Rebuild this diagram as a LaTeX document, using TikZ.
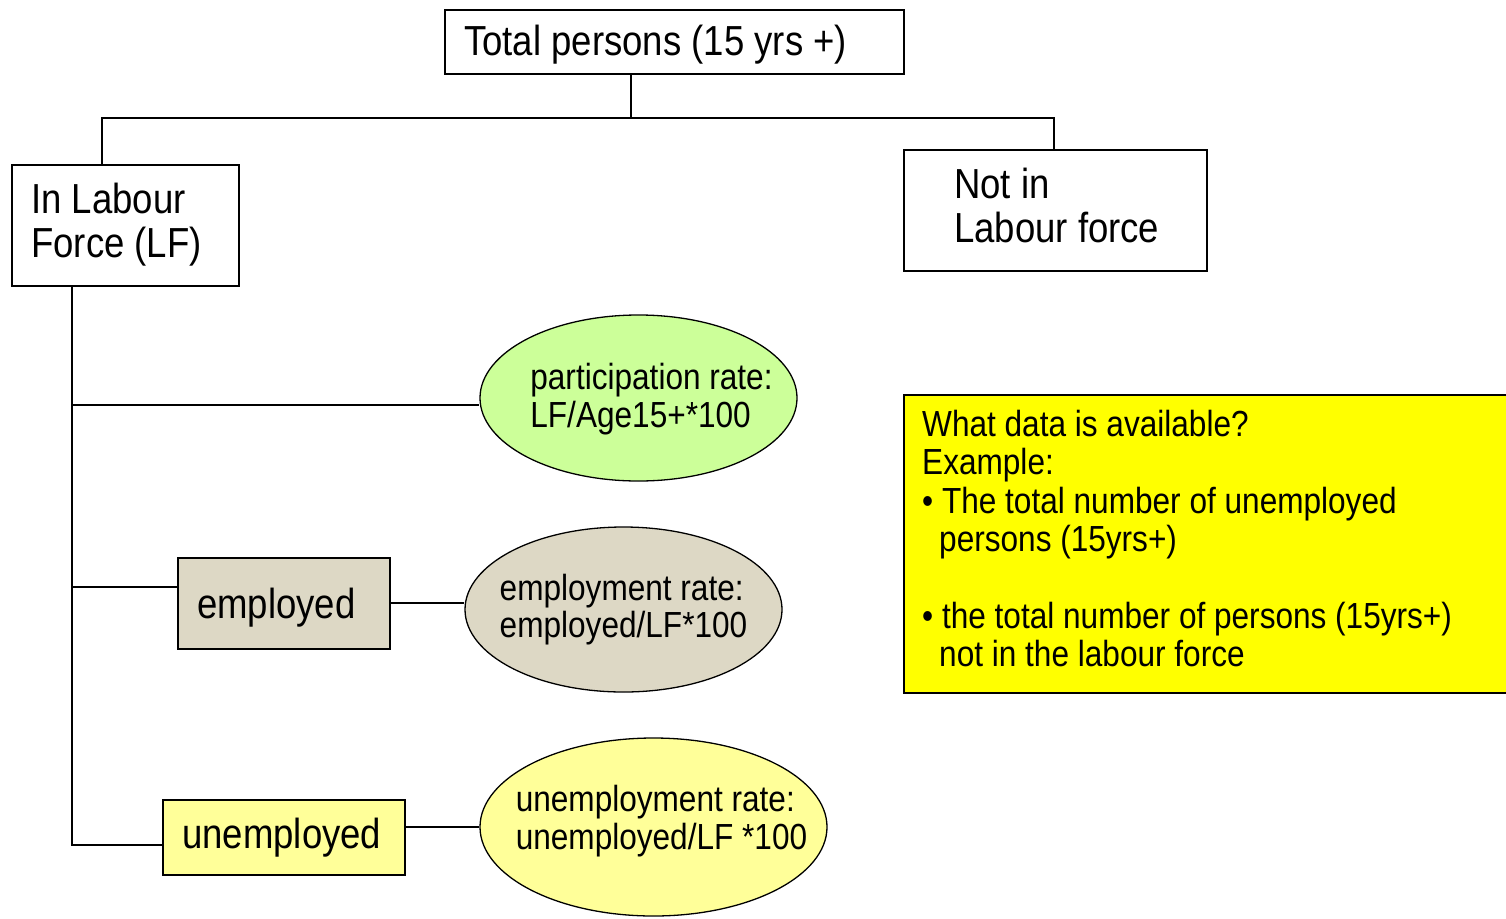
\documentclass[tikz,border=0pt]{standalone}
\usepackage{fontspec}
\setmainfont{Liberation Sans}[FakeStretch=0.87]
\usetikzlibrary{shapes.geometric}
\definecolor{pgreen}{HTML}{CCFF99}
\definecolor{pbeige}{HTML}{DDD8C5}
\definecolor{pyel}{HTML}{FFFF99}
\definecolor{byel}{HTML}{FFFF00}
\tikzset{
  box/.style={draw=black, line width=1.8pt, rectangle, inner sep=0pt, anchor=north west},
  oval/.style={draw=black, line width=1.3pt, ellipse, inner sep=0pt},
  biglbl/.style={inner sep=0pt, align=left, font=\fontsize{42}{44}\selectfont, anchor=west},
  smalllbl/.style={inner sep=0pt, align=left, font=\fontsize{36.3}{37.5}\selectfont},
  conn/.style={draw=black, line width=1.6pt},
}
\begin{document}
\begin{tikzpicture}[x=1pt, y=-1pt]
\useasboundingbox (0,0) rectangle (1506,918);
\clip (0,0) rectangle (1506,918);
% main boxes
\node[box, minimum width=459pt, minimum height=64pt] (tot) at (444,9) {};
\node[biglbl] (tott) at ([xshift=20pt,yshift=-3pt]tot.west) {Total persons (15 yrs +)};
\node[box, minimum width=227pt, minimum height=121pt] (lf) at (11,164) {};
\node[biglbl] (lft) at ([xshift=20pt,yshift=1pt]lf.west) {In Labour\\Force (LF)};
\node[box, minimum width=303pt, minimum height=121pt] (nlf) at (903,149) {};
\node[biglbl] (nlft) at ([xshift=51pt,yshift=5pt]nlf.west) {Not in\\Labour force};
% sub boxes
\node[box, fill=pbeige, line width=1.5pt, minimum width=212pt, minimum height=91pt] (emp) at (177,557) {};
\node[biglbl] (empt) at ([xshift=20pt,yshift=-4pt]emp.west) {employed};
\node[box, fill=pyel, line width=1.5pt, minimum width=242pt, minimum height=75pt] (un) at (162,799) {};
\node[biglbl] (unt) at ([xshift=20pt]un.west) {unemployed};
% ellipses
\node[oval, fill=pgreen, minimum width=317pt, minimum height=166pt] (pe) at (638.5,398) {};
\node[smalllbl] (pet) at ([xshift=13pt,yshift=-1pt]pe.center) {participation rate:\\LF/Age15+*100};
\node[oval, fill=pbeige, minimum width=317pt, minimum height=165pt] (ee) at (623.5,609.5) {};
\node[smalllbl] (eet) at ([yshift=0pt]ee.center) {employment rate:\\employed/LF*100};
\node[oval, fill=pyel, minimum width=347pt, minimum height=178pt] (ue) at (653.5,827) {};
\node[smalllbl] (uet) at ([xshift=8pt,yshift=6pt]ue.center) {unemployment rate:\\unemployed/LF *100};
% info box
\node[box, fill=byel, minimum width=620pt, minimum height=298pt] (info) at (903,394) {};
\node[smalllbl, anchor=north west, font=\fontsize{36.3}{38.3}\selectfont] (infot) at (922,410)
 {What data is available?\\Example:\\\textbullet\ The total number of unemployed\\\hspace*{17pt}persons (15yrs+)\\[38.3pt]\textbullet\ the total number of persons (15yrs+)\\\hspace*{17pt}not in the labour force};
% connectors
\coordinate (jt) at (631,118);
\coordinate (ja) at (102,118);
\coordinate (jb) at (1054,118);
\draw[conn] (jt |- tot.south) -- (jt);
\draw[conn] (ja |- lf.north) -- (ja) -- (jb) -- (jb |- nlf.north);
\coordinate (sp) at (72,845);
\coordinate (b1) at (72,405);
\coordinate (b2) at (72,587);
\draw[conn] (sp |- lf.south) -- (sp) -- (sp -| un.west);
\draw[conn] (b1) -- (b1 -| pe.west);
\draw[conn] (b2) -- (b2 -| emp.west);
\draw[conn] (emp.east) -- (emp.east -| ee.west);
\draw[conn] (ue.west -| un.east) -- (ue.west);
\end{tikzpicture}
\end{document}
